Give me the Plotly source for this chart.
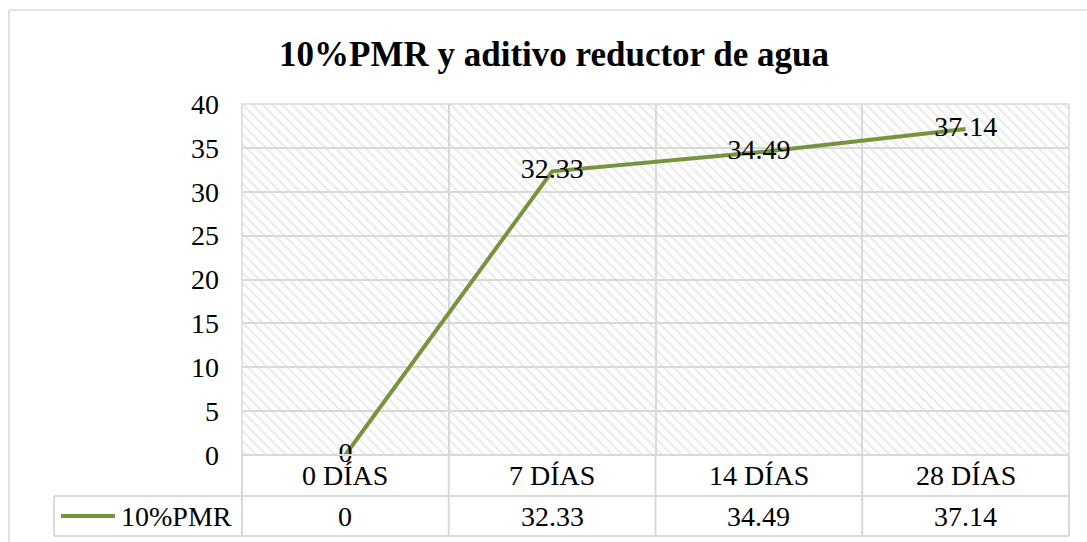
import plotly.graph_objects as go

# ---- data ----
categories = ["0 DÍAS", "7 DÍAS", "14 DÍAS", "28 DÍAS"]
series_name = "10%PMR"
values = [0, 32.33, 34.49, 37.14]
value_labels = ["0", "32.33", "34.49", "37.14"]
title_text = "10%PMR y aditivo reductor de agua"
y_ticks = [0, 5, 10, 15, 20, 25, 30, 35, 40]

# ---- layout constants (pixels) ----
W, H = 1087, 542
PL, PR, PT, PB = 242, 1069, 104, 455
LINE_COLOR = "#77933C"
GRID = "#d9d9d9"
FONT = "Liberation Serif, Times New Roman, serif"
FS = 28
Y_MAX = y_ticks[-1]

def px_x(px):
    return (px - PL) / (PR - PL)

def px_y(py):
    return (PB - py) / (PB - PT)

x_idx = list(range(len(categories)))

fig = go.Figure()

# hatched plot-area background
fig.add_trace(go.Bar(
    x=x_idx, y=[Y_MAX] * len(categories), width=1,
    marker=dict(color="rgba(0,0,0,0)", line=dict(width=0),
                pattern=dict(shape="\\", fgcolor="#dadada", bgcolor="rgba(0,0,0,0)",
                             size=7, solidity=0.35)),
    hoverinfo="skip", showlegend=False,
))

fig.add_trace(go.Scatter(
    x=x_idx, y=values, mode="lines+text", name=series_name,
    line=dict(color=LINE_COLOR, width=4),
    text=value_labels, textposition="middle center",
    textfont=dict(family=FONT, size=FS, color="black"),
    cliponaxis=False, showlegend=False,
))

shapes = []
annotations = []

# plot area border
shapes.append(dict(type="rect", xref="paper", yref="paper", x0=0, x1=1, y0=0, y1=1,
                   line=dict(color=GRID, width=1.5), layer="below"))

# data table
ROW1, ROW2, ROW3 = 455, 496, 536
TL = 54
for yy, x0 in [(ROW1, PL), (ROW2, TL), (ROW3, TL)]:
    shapes.append(dict(type="line", xref="paper", yref="paper",
                       x0=px_x(x0), x1=1, y0=px_y(yy), y1=px_y(yy),
                       line=dict(color=GRID, width=2)))
n = len(categories)
for i in range(n + 1):
    xx = i / n
    shapes.append(dict(type="line", xref="paper", yref="paper",
                       x0=xx, x1=xx, y0=px_y(ROW1), y1=px_y(ROW3),
                       line=dict(color=GRID, width=2)))
shapes.append(dict(type="line", xref="paper", yref="paper",
                   x0=px_x(TL), x1=px_x(TL), y0=px_y(ROW2), y1=px_y(ROW3),
                   line=dict(color=GRID, width=2)))

for i, (c, v) in enumerate(zip(categories, value_labels)):
    xc = (i + 0.5) / n
    annotations.append(dict(x=xc, y=px_y((ROW1 + ROW2) / 2), xref="paper", yref="paper",
                            text=c, showarrow=False, xanchor="center", yanchor="middle",
                            font=dict(family=FONT, size=FS, color="black")))
    annotations.append(dict(x=xc, y=px_y((ROW2 + ROW3) / 2), xref="paper", yref="paper",
                            text=v, showarrow=False, xanchor="center", yanchor="middle",
                            font=dict(family=FONT, size=FS, color="black")))

# legend key in table
ymid = px_y((ROW2 + ROW3) / 2)
shapes.append(dict(type="line", xref="paper", yref="paper",
                   x0=px_x(61), x1=px_x(115), y0=ymid, y1=ymid,
                   line=dict(color=LINE_COLOR, width=4)))
annotations.append(dict(x=px_x(119), y=ymid, xref="paper", yref="paper",
                        text=series_name, showarrow=False, xanchor="left", yanchor="middle",
                        font=dict(family=FONT, size=FS, color="black")))

# title
annotations.append(dict(x=px_x(554), y=px_y(55), xref="paper", yref="paper",
                        text="<b>" + title_text + "</b>", showarrow=False,
                        xanchor="center", yanchor="middle",
                        font=dict(family=FONT, size=35, color="black")))

# outer chart border (left and top)
shapes.append(dict(type="line", xref="paper", yref="paper",
                   x0=px_x(9), x1=px_x(9), y0=px_y(10), y1=px_y(H + 5),
                   line=dict(color=GRID, width=1.5)))
shapes.append(dict(type="line", xref="paper", yref="paper",
                   x0=px_x(9), x1=px_x(W + 5), y0=px_y(10), y1=px_y(10),
                   line=dict(color=GRID, width=1.5)))

fig.update_layout(
    width=W, height=H,
    margin=dict(l=PL, r=W - PR, t=PT, b=H - PB, pad=0),
    paper_bgcolor="white", plot_bgcolor="white",
    showlegend=False,
    xaxis=dict(range=[-0.5, n - 0.5], tickvals=[i - 0.5 for i in range(n + 1)],
               showticklabels=False, showgrid=True, gridcolor=GRID, gridwidth=1.5,
               zeroline=False, showline=False, ticks=""),
    yaxis=dict(range=[0, Y_MAX], tickvals=y_ticks, showgrid=True, gridcolor=GRID,
               gridwidth=1.5, zeroline=False, showline=False, ticks="",
               ticklabelstandoff=22,
               tickfont=dict(family=FONT, size=FS, color="black")),
    shapes=shapes, annotations=annotations,
    bargap=0,
)

fig.write_html("out.html", config={"displayModeBar": False},
               post_script="document.body.style.margin='0';")
